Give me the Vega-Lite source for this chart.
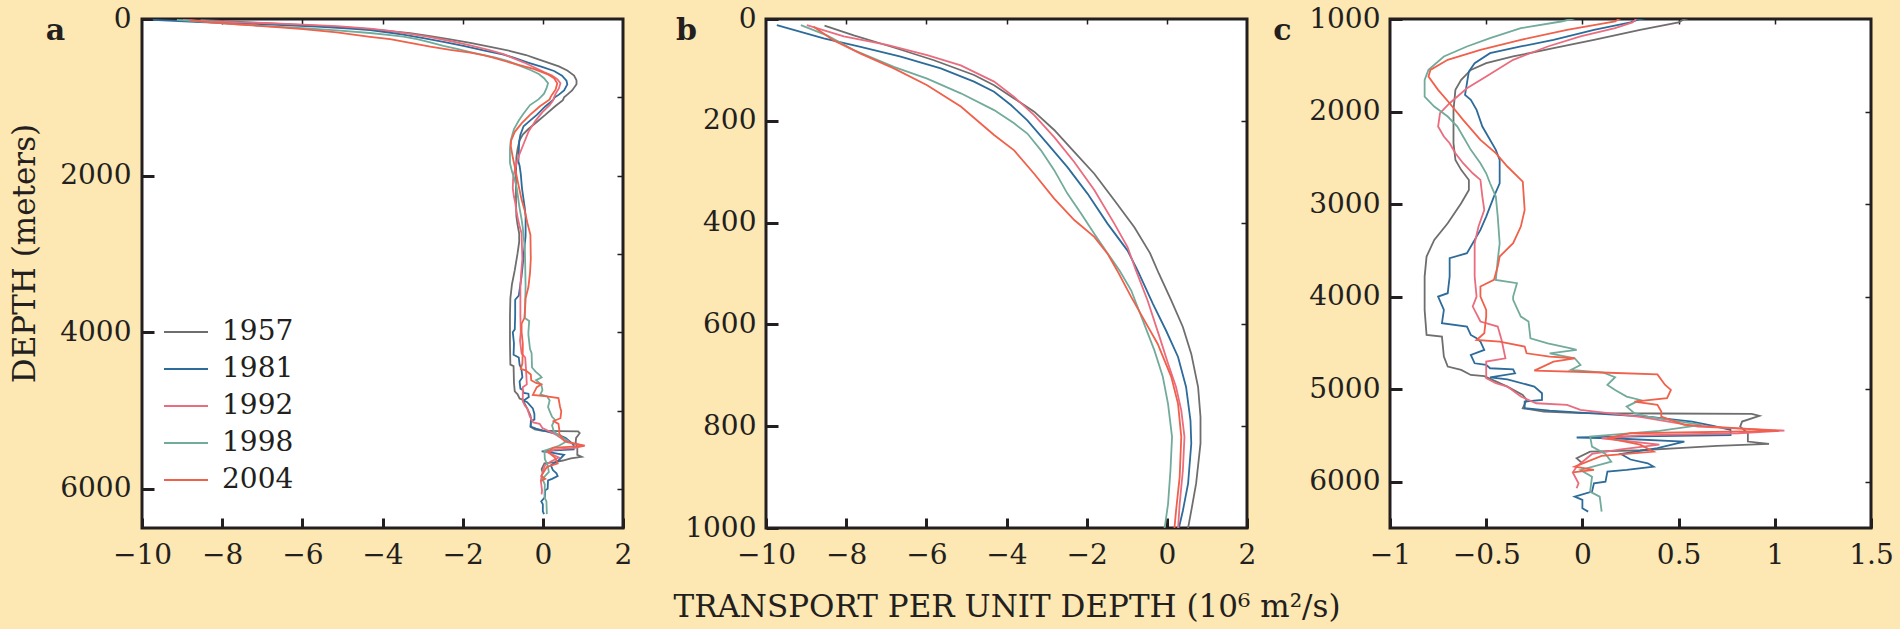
{
  "$schema": "https://vega.github.io/schema/vega-lite/v6.json",
  "background": "#fde7b2",
  "padding": {"left": 7, "top": 3, "right": 5, "bottom": 5},
  "datasets": {
    "profiles": [
      {"year": "1957", "d": 13, "v": -8.54}, {"year": "1957", "d": 32, "v": -7.81}, {"year": "1957", "d": 56, "v": -6.81},
      {"year": "1957", "d": 81, "v": -5.81}, {"year": "1957", "d": 110, "v": -4.81}, {"year": "1957", "d": 130, "v": -4.31},
      {"year": "1957", "d": 156, "v": -3.81}, {"year": "1957", "d": 182, "v": -3.31}, {"year": "1957", "d": 218, "v": -2.81},
      {"year": "1957", "d": 261, "v": -2.31}, {"year": "1957", "d": 304, "v": -1.81}, {"year": "1957", "d": 356, "v": -1.31},
      {"year": "1957", "d": 409, "v": -0.81}, {"year": "1957", "d": 460, "v": -0.42}, {"year": "1957", "d": 500, "v": -0.2},
      {"year": "1957", "d": 553, "v": 0.11}, {"year": "1957", "d": 605, "v": 0.4}, {"year": "1957", "d": 658, "v": 0.61},
      {"year": "1957", "d": 723, "v": 0.78}, {"year": "1957", "d": 782, "v": 0.84}, {"year": "1957", "d": 834, "v": 0.84},
      {"year": "1957", "d": 913, "v": 0.73}, {"year": "1957", "d": 966, "v": 0.61}, {"year": "1957", "d": 1000, "v": 0.53},
      {"year": "1957", "d": 1037, "v": 0.5}, {"year": "1957", "d": 1117, "v": 0.3}, {"year": "1957", "d": 1225, "v": 0.06},
      {"year": "1957", "d": 1315, "v": -0.15}, {"year": "1957", "d": 1405, "v": -0.36}, {"year": "1957", "d": 1477, "v": -0.5},
      {"year": "1957", "d": 1550, "v": -0.58}, {"year": "1957", "d": 1658, "v": -0.63}, {"year": "1957", "d": 1766, "v": -0.66},
      {"year": "1957", "d": 1982, "v": -0.67}, {"year": "1957", "d": 2342, "v": -0.67}, {"year": "1957", "d": 2522, "v": -0.66},
      {"year": "1957", "d": 2630, "v": -0.63}, {"year": "1957", "d": 2739, "v": -0.59}, {"year": "1957", "d": 2847, "v": -0.59},
      {"year": "1957", "d": 2991, "v": -0.63}, {"year": "1957", "d": 3207, "v": -0.7}, {"year": "1957", "d": 3387, "v": -0.77},
      {"year": "1957", "d": 3567, "v": -0.81}, {"year": "1957", "d": 3783, "v": -0.82}, {"year": "1957", "d": 4143, "v": -0.82},
      {"year": "1957", "d": 4414, "v": -0.81}, {"year": "1957", "d": 4432, "v": -0.73}, {"year": "1957", "d": 4648, "v": -0.72},
      {"year": "1957", "d": 4756, "v": -0.7}, {"year": "1957", "d": 4792, "v": -0.63}, {"year": "1957", "d": 4846, "v": -0.58},
      {"year": "1957", "d": 4860, "v": -0.51}, {"year": "1957", "d": 4972, "v": -0.39}, {"year": "1957", "d": 5062, "v": -0.31},
      {"year": "1957", "d": 5116, "v": -0.29}, {"year": "1957", "d": 5206, "v": -0.31}, {"year": "1957", "d": 5242, "v": -0.2},
      {"year": "1957", "d": 5258, "v": -0.01}, {"year": "1957", "d": 5263, "v": 0.4}, {"year": "1957", "d": 5267, "v": 0.88},
      {"year": "1957", "d": 5289, "v": 0.92}, {"year": "1957", "d": 5350, "v": 0.83}, {"year": "1957", "d": 5404, "v": 0.82},
      {"year": "1957", "d": 5476, "v": 0.86}, {"year": "1957", "d": 5566, "v": 0.86}, {"year": "1957", "d": 5592, "v": 0.97},
      {"year": "1957", "d": 5612, "v": 0.7}, {"year": "1957", "d": 5638, "v": 0.5}, {"year": "1957", "d": 5660, "v": 0.3},
      {"year": "1957", "d": 5675, "v": 0.04}, {"year": "1957", "d": 5747, "v": -0.03}, {"year": "1957", "d": 5800, "v": 0.0},

      {"year": "1981", "d": 12, "v": -9.73}, {"year": "1981", "d": 38, "v": -8.56}, {"year": "1981", "d": 55, "v": -7.64},
      {"year": "1981", "d": 74, "v": -6.64}, {"year": "1981", "d": 97, "v": -5.64}, {"year": "1981", "d": 123, "v": -4.81},
      {"year": "1981", "d": 143, "v": -4.31}, {"year": "1981", "d": 169, "v": -3.89}, {"year": "1981", "d": 199, "v": -3.48},
      {"year": "1981", "d": 245, "v": -2.98}, {"year": "1981", "d": 291, "v": -2.48}, {"year": "1981", "d": 343, "v": -1.98},
      {"year": "1981", "d": 402, "v": -1.48}, {"year": "1981", "d": 455, "v": -0.98}, {"year": "1981", "d": 494, "v": -0.73},
      {"year": "1981", "d": 559, "v": -0.35}, {"year": "1981", "d": 612, "v": -0.02}, {"year": "1981", "d": 664, "v": 0.28},
      {"year": "1981", "d": 723, "v": 0.48}, {"year": "1981", "d": 789, "v": 0.59}, {"year": "1981", "d": 834, "v": 0.61},
      {"year": "1981", "d": 913, "v": 0.53}, {"year": "1981", "d": 966, "v": 0.4}, {"year": "1981", "d": 1000, "v": 0.3},
      {"year": "1981", "d": 1037, "v": 0.25}, {"year": "1981", "d": 1117, "v": 0.06}, {"year": "1981", "d": 1225, "v": -0.15},
      {"year": "1981", "d": 1297, "v": -0.32}, {"year": "1981", "d": 1369, "v": -0.48}, {"year": "1981", "d": 1477, "v": -0.56},
      {"year": "1981", "d": 1567, "v": -0.59}, {"year": "1981", "d": 1694, "v": -0.6}, {"year": "1981", "d": 1820, "v": -0.61},
      {"year": "1981", "d": 1874, "v": -0.58}, {"year": "1981", "d": 1982, "v": -0.55}, {"year": "1981", "d": 2162, "v": -0.52},
      {"year": "1981", "d": 2270, "v": -0.49}, {"year": "1981", "d": 2414, "v": -0.45}, {"year": "1981", "d": 2522, "v": -0.43},
      {"year": "1981", "d": 2775, "v": -0.43}, {"year": "1981", "d": 2919, "v": -0.46}, {"year": "1981", "d": 3135, "v": -0.5},
      {"year": "1981", "d": 3279, "v": -0.53}, {"year": "1981", "d": 3531, "v": -0.6}, {"year": "1981", "d": 3585, "v": -0.69},
      {"year": "1981", "d": 3783, "v": -0.69}, {"year": "1981", "d": 3963, "v": -0.7}, {"year": "1981", "d": 3999, "v": -0.75},
      {"year": "1981", "d": 4143, "v": -0.72}, {"year": "1981", "d": 4287, "v": -0.73}, {"year": "1981", "d": 4323, "v": -0.6},
      {"year": "1981", "d": 4414, "v": -0.58}, {"year": "1981", "d": 4450, "v": -0.55}, {"year": "1981", "d": 4486, "v": -0.53},
      {"year": "1981", "d": 4576, "v": -0.51}, {"year": "1981", "d": 4630, "v": -0.58}, {"year": "1981", "d": 4720, "v": -0.56},
      {"year": "1981", "d": 4738, "v": -0.5}, {"year": "1981", "d": 4774, "v": -0.48}, {"year": "1981", "d": 4785, "v": -0.36},
      {"year": "1981", "d": 4828, "v": -0.35}, {"year": "1981", "d": 4872, "v": -0.48}, {"year": "1981", "d": 4893, "v": -0.39},
      {"year": "1981", "d": 4972, "v": -0.25}, {"year": "1981", "d": 5044, "v": -0.21}, {"year": "1981", "d": 5116, "v": -0.21},
      {"year": "1981", "d": 5134, "v": -0.3}, {"year": "1981", "d": 5206, "v": -0.3}, {"year": "1981", "d": 5232, "v": -0.17},
      {"year": "1981", "d": 5253, "v": -0.01}, {"year": "1981", "d": 5300, "v": 0.35}, {"year": "1981", "d": 5350, "v": 0.57},
      {"year": "1981", "d": 5397, "v": 0.68}, {"year": "1981", "d": 5440, "v": 0.77}, {"year": "1981", "d": 5495, "v": 0.77},
      {"year": "1981", "d": 5510, "v": 0.3}, {"year": "1981", "d": 5522, "v": -0.03}, {"year": "1981", "d": 5530, "v": 0.15},
      {"year": "1981", "d": 5566, "v": 0.53}, {"year": "1981", "d": 5638, "v": 0.39}, {"year": "1981", "d": 5700, "v": 0.2},
      {"year": "1981", "d": 5760, "v": 0.25}, {"year": "1981", "d": 5801, "v": 0.34}, {"year": "1981", "d": 5837, "v": 0.37},
      {"year": "1981", "d": 5873, "v": 0.23}, {"year": "1981", "d": 5891, "v": 0.13}, {"year": "1981", "d": 5999, "v": 0.12},
      {"year": "1981", "d": 6017, "v": 0.06}, {"year": "1981", "d": 6107, "v": 0.05}, {"year": "1981", "d": 6161, "v": -0.04},
      {"year": "1981", "d": 6197, "v": 0.0}, {"year": "1981", "d": 6287, "v": 0.0}, {"year": "1981", "d": 6323, "v": 0.03},

      {"year": "1992", "d": 12, "v": -8.98}, {"year": "1992", "d": 34, "v": -8.06}, {"year": "1992", "d": 51, "v": -6.98},
      {"year": "1992", "d": 71, "v": -5.98}, {"year": "1992", "d": 91, "v": -5.14}, {"year": "1992", "d": 123, "v": -4.31},
      {"year": "1992", "d": 153, "v": -3.81}, {"year": "1992", "d": 189, "v": -3.31}, {"year": "1992", "d": 232, "v": -2.81},
      {"year": "1992", "d": 281, "v": -2.31}, {"year": "1992", "d": 336, "v": -1.81}, {"year": "1992", "d": 402, "v": -1.31},
      {"year": "1992", "d": 448, "v": -0.98}, {"year": "1992", "d": 494, "v": -0.77}, {"year": "1992", "d": 553, "v": -0.48},
      {"year": "1992", "d": 625, "v": -0.18}, {"year": "1992", "d": 677, "v": 0.03}, {"year": "1992", "d": 723, "v": 0.23},
      {"year": "1992", "d": 769, "v": 0.36}, {"year": "1992", "d": 821, "v": 0.44}, {"year": "1992", "d": 887, "v": 0.4},
      {"year": "1992", "d": 953, "v": 0.32}, {"year": "1992", "d": 1000, "v": 0.28}, {"year": "1992", "d": 1037, "v": 0.26},
      {"year": "1992", "d": 1099, "v": 0.17}, {"year": "1992", "d": 1189, "v": -0.01}, {"year": "1992", "d": 1297, "v": -0.18},
      {"year": "1992", "d": 1441, "v": -0.36}, {"year": "1992", "d": 1622, "v": -0.5}, {"year": "1992", "d": 1748, "v": -0.6},
      {"year": "1992", "d": 1910, "v": -0.69}, {"year": "1992", "d": 2018, "v": -0.74}, {"year": "1992", "d": 2162, "v": -0.75},
      {"year": "1992", "d": 2270, "v": -0.72}, {"year": "1992", "d": 2342, "v": -0.69}, {"year": "1992", "d": 2450, "v": -0.66},
      {"year": "1992", "d": 2558, "v": -0.62}, {"year": "1992", "d": 2667, "v": -0.57}, {"year": "1992", "d": 2739, "v": -0.53},
      {"year": "1992", "d": 2919, "v": -0.52}, {"year": "1992", "d": 3063, "v": -0.51}, {"year": "1992", "d": 3243, "v": -0.54},
      {"year": "1992", "d": 3423, "v": -0.56}, {"year": "1992", "d": 3783, "v": -0.56}, {"year": "1992", "d": 3999, "v": -0.55},
      {"year": "1992", "d": 4107, "v": -0.57}, {"year": "1992", "d": 4269, "v": -0.53}, {"year": "1992", "d": 4323, "v": -0.44},
      {"year": "1992", "d": 4468, "v": -0.42}, {"year": "1992", "d": 4666, "v": -0.4}, {"year": "1992", "d": 4702, "v": -0.5},
      {"year": "1992", "d": 4882, "v": -0.5}, {"year": "1992", "d": 4936, "v": -0.45}, {"year": "1992", "d": 4972, "v": -0.39},
      {"year": "1992", "d": 5080, "v": -0.32}, {"year": "1992", "d": 5152, "v": -0.24}, {"year": "1992", "d": 5170, "v": -0.08},
      {"year": "1992", "d": 5224, "v": -0.01}, {"year": "1992", "d": 5300, "v": 0.3}, {"year": "1992", "d": 5404, "v": 0.6},
      {"year": "1992", "d": 5447, "v": 1.05}, {"year": "1992", "d": 5476, "v": 0.81}, {"year": "1992", "d": 5500, "v": 0.3},
      {"year": "1992", "d": 5530, "v": 0.1}, {"year": "1992", "d": 5600, "v": 0.4}, {"year": "1992", "d": 5650, "v": 0.2},
      {"year": "1992", "d": 5700, "v": 0.05}, {"year": "1992", "d": 5837, "v": -0.03}, {"year": "1992", "d": 5900, "v": -0.05},
      {"year": "1992", "d": 6017, "v": -0.02}, {"year": "1992", "d": 6071, "v": -0.03},

      {"year": "1998", "d": 12, "v": -9.13}, {"year": "1998", "d": 32, "v": -8.48}, {"year": "1998", "d": 61, "v": -7.81},
      {"year": "1998", "d": 94, "v": -6.81}, {"year": "1998", "d": 117, "v": -5.98}, {"year": "1998", "d": 146, "v": -5.14},
      {"year": "1998", "d": 179, "v": -4.31}, {"year": "1998", "d": 205, "v": -3.81}, {"year": "1998", "d": 225, "v": -3.48},
      {"year": "1998", "d": 258, "v": -3.14}, {"year": "1998", "d": 297, "v": -2.81}, {"year": "1998", "d": 343, "v": -2.48},
      {"year": "1998", "d": 382, "v": -2.14}, {"year": "1998", "d": 422, "v": -1.81}, {"year": "1998", "d": 460, "v": -1.48},
      {"year": "1998", "d": 494, "v": -1.18}, {"year": "1998", "d": 533, "v": -0.89}, {"year": "1998", "d": 592, "v": -0.6},
      {"year": "1998", "d": 651, "v": -0.31}, {"year": "1998", "d": 703, "v": -0.1}, {"year": "1998", "d": 756, "v": 0.03},
      {"year": "1998", "d": 821, "v": 0.13}, {"year": "1998", "d": 887, "v": 0.09}, {"year": "1998", "d": 953, "v": 0.03},
      {"year": "1998", "d": 992, "v": -0.04}, {"year": "1998", "d": 1027, "v": -0.11}, {"year": "1998", "d": 1099, "v": -0.32},
      {"year": "1998", "d": 1207, "v": -0.48}, {"year": "1998", "d": 1297, "v": -0.6}, {"year": "1998", "d": 1405, "v": -0.72},
      {"year": "1998", "d": 1550, "v": -0.8}, {"year": "1998", "d": 1658, "v": -0.82}, {"year": "1998", "d": 1838, "v": -0.82},
      {"year": "1998", "d": 1946, "v": -0.77}, {"year": "1998", "d": 2054, "v": -0.7}, {"year": "1998", "d": 2162, "v": -0.65},
      {"year": "1998", "d": 2270, "v": -0.62}, {"year": "1998", "d": 2414, "v": -0.58}, {"year": "1998", "d": 2558, "v": -0.53},
      {"year": "1998", "d": 2667, "v": -0.5}, {"year": "1998", "d": 2775, "v": -0.48}, {"year": "1998", "d": 2919, "v": -0.45},
      {"year": "1998", "d": 3135, "v": -0.44}, {"year": "1998", "d": 3423, "v": -0.43}, {"year": "1998", "d": 3603, "v": -0.44},
      {"year": "1998", "d": 3819, "v": -0.45}, {"year": "1998", "d": 3855, "v": -0.34}, {"year": "1998", "d": 3999, "v": -0.36},
      {"year": "1998", "d": 4035, "v": -0.36}, {"year": "1998", "d": 4215, "v": -0.32}, {"year": "1998", "d": 4269, "v": -0.28},
      {"year": "1998", "d": 4450, "v": -0.27}, {"year": "1998", "d": 4504, "v": -0.18}, {"year": "1998", "d": 4558, "v": -0.06},
      {"year": "1998", "d": 4576, "v": -0.03}, {"year": "1998", "d": 4612, "v": -0.17}, {"year": "1998", "d": 4666, "v": -0.04},
      {"year": "1998", "d": 4738, "v": -0.01}, {"year": "1998", "d": 4792, "v": -0.06}, {"year": "1998", "d": 4821, "v": 0.11},
      {"year": "1998", "d": 4871, "v": 0.17}, {"year": "1998", "d": 4954, "v": 0.13}, {"year": "1998", "d": 5008, "v": 0.17},
      {"year": "1998", "d": 5080, "v": 0.23}, {"year": "1998", "d": 5116, "v": 0.3}, {"year": "1998", "d": 5188, "v": 0.23},
      {"year": "1998", "d": 5260, "v": 0.27}, {"year": "1998", "d": 5296, "v": 0.34}, {"year": "1998", "d": 5386, "v": 0.62},
      {"year": "1998", "d": 5450, "v": 0.4}, {"year": "1998", "d": 5512, "v": 0.04}, {"year": "1998", "d": 5620, "v": 0.05},
      {"year": "1998", "d": 5700, "v": 0.12}, {"year": "1998", "d": 5783, "v": 0.15}, {"year": "1998", "d": 5873, "v": -0.01},
      {"year": "1998", "d": 5945, "v": 0.05}, {"year": "1998", "d": 6107, "v": 0.04}, {"year": "1998", "d": 6161, "v": 0.09},
      {"year": "1998", "d": 6323, "v": 0.1},

      {"year": "2004", "d": 15, "v": -8.81}, {"year": "2004", "d": 42, "v": -8.31}, {"year": "2004", "d": 68, "v": -7.64},
      {"year": "2004", "d": 97, "v": -6.81}, {"year": "2004", "d": 130, "v": -5.98}, {"year": "2004", "d": 172, "v": -5.14},
      {"year": "2004", "d": 228, "v": -4.31}, {"year": "2004", "d": 258, "v": -3.81}, {"year": "2004", "d": 304, "v": -3.31},
      {"year": "2004", "d": 353, "v": -2.81}, {"year": "2004", "d": 395, "v": -2.31}, {"year": "2004", "d": 428, "v": -1.81},
      {"year": "2004", "d": 461, "v": -1.48}, {"year": "2004", "d": 494, "v": -1.24}, {"year": "2004", "d": 546, "v": -0.89},
      {"year": "2004", "d": 592, "v": -0.56}, {"year": "2004", "d": 638, "v": -0.23}, {"year": "2004", "d": 703, "v": 0.11},
      {"year": "2004", "d": 756, "v": 0.28}, {"year": "2004", "d": 821, "v": 0.36}, {"year": "2004", "d": 900, "v": 0.32},
      {"year": "2004", "d": 966, "v": 0.23}, {"year": "2004", "d": 1000, "v": 0.19}, {"year": "2004", "d": 1027, "v": 0.17},
      {"year": "2004", "d": 1117, "v": -0.08}, {"year": "2004", "d": 1225, "v": -0.32}, {"year": "2004", "d": 1333, "v": -0.53},
      {"year": "2004", "d": 1441, "v": -0.7}, {"year": "2004", "d": 1550, "v": -0.79}, {"year": "2004", "d": 1622, "v": -0.8},
      {"year": "2004", "d": 1766, "v": -0.75}, {"year": "2004", "d": 1910, "v": -0.69}, {"year": "2004", "d": 2090, "v": -0.62},
      {"year": "2004", "d": 2306, "v": -0.53}, {"year": "2004", "d": 2450, "v": -0.45}, {"year": "2004", "d": 2594, "v": -0.39},
      {"year": "2004", "d": 2757, "v": -0.31}, {"year": "2004", "d": 3063, "v": -0.3}, {"year": "2004", "d": 3243, "v": -0.32},
      {"year": "2004", "d": 3423, "v": -0.36}, {"year": "2004", "d": 3567, "v": -0.43}, {"year": "2004", "d": 3675, "v": -0.44},
      {"year": "2004", "d": 3819, "v": -0.46}, {"year": "2004", "d": 3891, "v": -0.53}, {"year": "2004", "d": 3999, "v": -0.53},
      {"year": "2004", "d": 4143, "v": -0.5}, {"year": "2004", "d": 4215, "v": -0.5}, {"year": "2004", "d": 4396, "v": -0.51},
      {"year": "2004", "d": 4468, "v": -0.55}, {"year": "2004", "d": 4486, "v": -0.43}, {"year": "2004", "d": 4540, "v": -0.3},
      {"year": "2004", "d": 4612, "v": -0.29}, {"year": "2004", "d": 4648, "v": -0.17}, {"year": "2004", "d": 4666, "v": -0.04},
      {"year": "2004", "d": 4702, "v": -0.15}, {"year": "2004", "d": 4800, "v": -0.25}, {"year": "2004", "d": 4820, "v": 0.1},
      {"year": "2004", "d": 4840, "v": 0.39}, {"year": "2004", "d": 4954, "v": 0.43}, {"year": "2004", "d": 5008, "v": 0.46},
      {"year": "2004", "d": 5098, "v": 0.44}, {"year": "2004", "d": 5134, "v": 0.27}, {"year": "2004", "d": 5170, "v": 0.39},
      {"year": "2004", "d": 5242, "v": 0.41}, {"year": "2004", "d": 5296, "v": 0.41}, {"year": "2004", "d": 5386, "v": 0.53},
      {"year": "2004", "d": 5450, "v": 1.02}, {"year": "2004", "d": 5476, "v": 0.25}, {"year": "2004", "d": 5530, "v": 0.13},
      {"year": "2004", "d": 5600, "v": 0.3}, {"year": "2004", "d": 5675, "v": 0.37}, {"year": "2004", "d": 5720, "v": 0.1},
      {"year": "2004", "d": 5837, "v": -0.04}, {"year": "2004", "d": 5873, "v": 0.06}, {"year": "2004", "d": 5900, "v": -0.05}
    ]
  },
  "spacing": 143,
  "bounds": "flush",
  "resolve": {"legend": {"color": "independent"}},
  "hconcat": [
    {
      "width": 481,
      "height": 509,
      "data": {"name": "profiles"},
      "layer": [
        {
          "mark": {"type": "line", "strokeWidth": 1.8, "clip": true},
          "encoding": {
            "x": {"field": "v", "type": "quantitative",
              "scale": {"domain": [-10, 2], "nice": false, "zero": false},
              "axis": {"orient": "bottom", "values": [-10, -8, -6, -4, -2, 0, 2], "tickSize": -10, "tickWidth": 3, "labelPadding": 23, "title": null}},
            "y": {"field": "d", "type": "quantitative",
              "scale": {"domain": [0, 6500], "reverse": true, "nice": false, "zero": false},
              "axis": {"orient": "left", "values": [0, 2000, 4000, 6000], "format": "d", "tickSize": -12, "tickWidth": 3, "labelPadding": 23,
                "title": "DEPTH (meters)", "titleFontSize": 31, "titleX": -117, "titleY": 234, "titleBaseline": "middle", "titleAngle": -90}},
            "color": {"field": "year", "type": "nominal",
              "scale": {"domain": ["1957", "1981", "1992", "1998", "2004"], "range": ["#6e6e6e", "#2d6b9b", "#ea6c7e", "#72ab9b", "#f0604a"]},
              "legend": {"orient": "none", "legendX": 21, "legendY": 290, "title": null, "symbolType": "stroke", "symbolSize": 1936,
                "symbolStrokeWidth": 2, "labelFontSize": 28, "labelFont": "DejaVu Serif", "labelColor": "#231f20", "labelOffset": 13, "rowPadding": 0}},
            "order": {"field": "d", "type": "quantitative"}
          }
        },
        {
          "mark": {"type": "line", "opacity": 0},
          "encoding": {
            "x": {"field": "v", "type": "quantitative",
              "axis": {"orient": "top", "values": [-8, -6, -4, -2, 0], "tickSize": -5, "tickWidth": 1.5, "labels": false,
                "title": "a", "titleX": -87, "titleY": 20, "titleBaseline": "alphabetic", "titleAngle": 0, "titleAlign": "center", "titleFontWeight": "bold", "titleFontSize": 30}},
            "y": {"field": "d", "type": "quantitative",
              "axis": {"orient": "right", "values": [1000, 2000, 3000, 4000, 5000, 6000], "tickSize": -6, "tickWidth": 1.5, "labels": false, "title": null}},
            "detail": {"field": "year"},
            "order": {"field": "d", "type": "quantitative"}
          }
        }
      ]
    },
    {
      "width": 481,
      "height": 509,
      "data": {"name": "profiles"},
      "transform": [{"filter": "datum.d <= 1080"}],
      "layer": [
        {
          "mark": {"type": "line", "strokeWidth": 1.8, "clip": true},
          "encoding": {
            "x": {"field": "v", "type": "quantitative",
              "scale": {"domain": [-10, 2], "nice": false, "zero": false},
              "axis": {"orient": "bottom", "values": [-10, -8, -6, -4, -2, 0, 2], "tickSize": -10, "tickWidth": 3, "labelPadding": 23,
                "title": "TRANSPORT PER UNIT DEPTH (10⁶ m²/s)", "titleFontSize": 31, "titleY": 79, "titleBaseline": "middle"}},
            "y": {"field": "d", "type": "quantitative",
              "scale": {"domain": [0, 1000], "reverse": true, "nice": false, "zero": false},
              "axis": {"orient": "left", "values": [0, 200, 400, 600, 800, 1000], "format": "d", "tickSize": -12, "tickWidth": 3, "labelPadding": 22, "title": null}},
            "color": {"field": "year", "type": "nominal",
              "scale": {"domain": ["1957", "1981", "1992", "1998", "2004"], "range": ["#6e6e6e", "#2d6b9b", "#ea6c7e", "#72ab9b", "#f0604a"]},
              "legend": null},
            "order": {"field": "d", "type": "quantitative"}
          }
        },
        {
          "mark": {"type": "line", "opacity": 0},
          "encoding": {
            "x": {"field": "v", "type": "quantitative",
              "axis": {"orient": "top", "values": [-8, -6, -4, -2, 0], "tickSize": -5, "tickWidth": 1.5, "labels": false,
                "title": "b", "titleX": -80, "titleY": 20, "titleBaseline": "alphabetic", "titleAngle": 0, "titleAlign": "center", "titleFontWeight": "bold", "titleFontSize": 30}},
            "y": {"field": "d", "type": "quantitative",
              "axis": {"orient": "right", "values": [200, 400, 600, 800], "tickSize": -6, "tickWidth": 1.5, "labels": false, "title": null}},
            "detail": {"field": "year"},
            "order": {"field": "d", "type": "quantitative"}
          }
        }
      ]
    },
    {
      "width": 481,
      "height": 509,
      "data": {"name": "profiles"},
      "transform": [{"filter": "datum.d >= 960"}],
      "layer": [
        {
          "mark": {"type": "line", "strokeWidth": 1.8, "clip": true},
          "encoding": {
            "x": {"field": "v", "type": "quantitative",
              "scale": {"domain": [-1, 1.5], "nice": false, "zero": false},
              "axis": {"orient": "bottom", "values": [-1, -0.5, 0, 0.5, 1, 1.5], "format": ".1~f", "tickSize": -10, "tickWidth": 3, "labelPadding": 23, "title": null}},
            "y": {"field": "d", "type": "quantitative",
              "scale": {"domain": [1000, 6500], "reverse": true, "nice": false, "zero": false},
              "axis": {"orient": "left", "values": [1000, 2000, 3000, 4000, 5000, 6000], "format": "d", "tickSize": -12, "tickWidth": 3, "labelPadding": 22, "title": null}},
            "color": {"field": "year", "type": "nominal",
              "scale": {"domain": ["1957", "1981", "1992", "1998", "2004"], "range": ["#6e6e6e", "#2d6b9b", "#ea6c7e", "#72ab9b", "#f0604a"]},
              "legend": null},
            "order": {"field": "d", "type": "quantitative"}
          }
        },
        {
          "mark": {"type": "line", "opacity": 0},
          "encoding": {
            "x": {"field": "v", "type": "quantitative",
              "axis": {"orient": "top", "values": [-0.5, 0, 0.5, 1], "tickSize": -5, "tickWidth": 1.5, "labels": false,
                "title": "c", "titleX": -108, "titleY": 20, "titleBaseline": "alphabetic", "titleAngle": 0, "titleAlign": "center", "titleFontWeight": "bold", "titleFontSize": 30}},
            "y": {"field": "d", "type": "quantitative",
              "axis": {"orient": "right", "values": [2000, 3000, 4000, 5000, 6000], "tickSize": -6, "tickWidth": 1.5, "labels": false, "title": null}},
            "detail": {"field": "year"},
            "order": {"field": "d", "type": "quantitative"}
          }
        }
      ]
    }
  ],
  "config": {
    "font": "DejaVu Serif",
    "view": {"stroke": "#231f20", "strokeWidth": 3, "fill": "white"},
    "axis": {
      "domain": false, "grid": false,
      "labelFont": "DejaVu Serif", "labelFontSize": 28, "labelColor": "#231f20",
      "labelFlush": false, "labelOverlap": false, "labelBound": false,
      "tickColor": "#231f20",
      "titleFont": "DejaVu Serif", "titleFontWeight": "normal", "titleColor": "#231f20"
    }
  }
}
